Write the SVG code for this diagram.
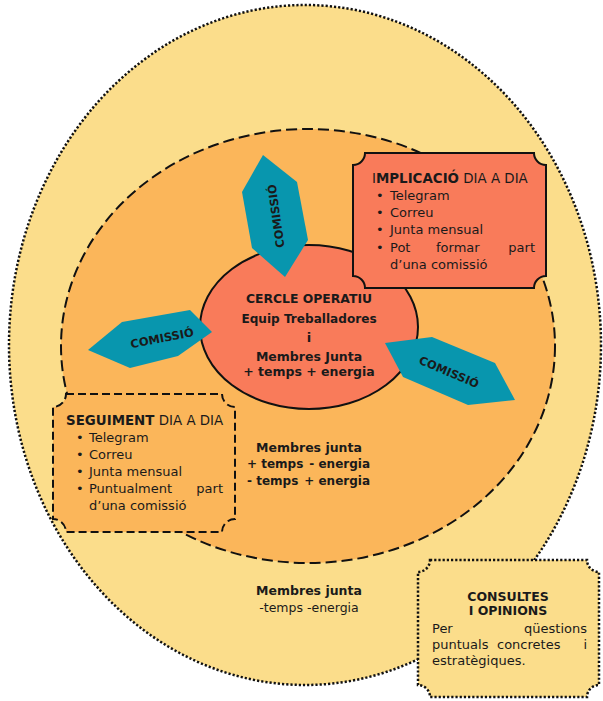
<svg xmlns="http://www.w3.org/2000/svg" width="603" height="701" viewBox="0 0 603 701">
<defs>
<style>
text{font-family:"DejaVu Sans","Liberation Sans",sans-serif;fill:#1a1a1a}
.b{font-weight:bold}
.t13{font-size:13px}
.com{font-size:11.5px;font-weight:bold;text-anchor:middle}
.c{text-anchor:middle}
.teal{fill:#0896ae}
</style>
</defs>
<rect width="603" height="701" fill="#ffffff"/>
<g id="outer-ring">
<ellipse cx="305" cy="345" rx="296" ry="340" fill="#fbdd8b" stroke="#111" stroke-width="2.5" stroke-dasharray="2.2 2"/>
</g>
<g id="middle-ring">
<ellipse cx="308" cy="346" rx="247" ry="217" fill="#fbb65a" stroke="#111" stroke-width="2" stroke-dasharray="11 5"/>
</g>
<g id="cercle-operatiu">
<ellipse cx="309" cy="327" rx="109" ry="82" fill="#f97b5a" stroke="#111" stroke-width="2"/>
</g>
<g id="comissio-top">
<polygon class="teal" points="263,155 297,182 308,240 285,277 252,248 242,192"/>
<text class="com" transform="translate(276,216) rotate(-98)" dy="0.36em">COMISSIÓ</text>
</g>
<g id="comissio-left">
<polygon class="teal" points="88,350 122,322 190,310 212,332 178,356 130,368"/>
<text class="com" transform="translate(162,338) rotate(-11)" dy="0.36em">COMISSIÓ</text>
</g>
<g id="comissio-right">
<polygon class="teal" points="385,343 432,337 495,363 515,400 468,405 403,377"/>
<text class="com" transform="translate(449,372) rotate(23)" dy="0.36em">COMISSIÓ</text>
</g>
<g id="cercle-text">
<text class="b c" x="309" y="303" font-size="12.4">CERCLE OPERATIU</text>
<text class="b c" x="309" y="323" font-size="12.1">Equip Treballadores</text>
<text class="b c" x="309" y="342" font-size="13">i</text>
<text class="b c" x="309" y="361" font-size="12.5">Membres Junta</text>
<text class="b c" x="309" y="376" font-size="12.5">+ temps + energia</text>
</g>
<g id="implicacio">
<path d="M365,153 H534 A12,12 0 0 0 546,165 V276 A12,12 0 0 0 534,288 H365 A12,12 0 0 0 353,276 V165 A12,12 0 0 0 365,153 Z" fill="#f97b5a" stroke="#111" stroke-width="2"/>
<text x="372" y="183" font-size="13.4">I<tspan class="b">MPLICACIÓ</tspan> DIA A DIA</text>
<text class="t13" x="376" y="200">•</text><text class="t13" x="390" y="200">Telegram</text>
<text class="t13" x="376" y="217">•</text><text class="t13" x="390" y="217">Correu</text>
<text class="t13" x="376" y="234">•</text><text class="t13" x="390" y="234">Junta mensual</text>
<text class="t13" x="376" y="252">•</text><text class="t13" x="390" y="252">Pot</text><text class="t13" x="436" y="252">formar</text><text class="t13" x="535" y="252" text-anchor="end">part</text>
<text class="t13" x="390" y="269">d’una comissió</text>
</g>
<g id="seguiment">
<path d="M66,394 H222 A13,13 0 0 0 235,407 V519 A13,13 0 0 0 222,532 H66 A13,13 0 0 0 53,519 V407 A13,13 0 0 0 66,394 Z" fill="#fbb65a" stroke="#111" stroke-width="2" stroke-dasharray="8 4"/>
<text x="66" y="425" font-size="13.4"><tspan class="b">SEGUIMENT</tspan> DIA A DIA</text>
<text class="t13" x="76" y="442">•</text><text class="t13" x="89" y="442">Telegram</text>
<text class="t13" x="76" y="459">•</text><text class="t13" x="89" y="459">Correu</text>
<text class="t13" x="76" y="476">•</text><text class="t13" x="89" y="476">Junta mensual</text>
<text class="t13" x="76" y="493">•</text><text class="t13" x="89" y="493">Puntualment</text><text class="t13" x="223" y="493" text-anchor="end">part</text>
<text class="t13" x="89" y="510">d’una comissió</text>
</g>
<g id="membres-mig">
<text class="b c" x="309" y="452" font-size="12.5">Membres junta</text>
<text class="b" x="247" y="468" font-size="12">+ temps</text><text class="b" x="370" y="468" font-size="12" text-anchor="end">- energia</text>
<text class="b" x="247" y="485" font-size="12">- temps</text><text class="b" x="370" y="485" font-size="12" text-anchor="end">+ energia</text>
</g>
<g id="membres-exterior">
<text class="b c" x="309" y="595" font-size="12.5">Membres junta</text>
<text class="c" x="309" y="612" font-size="12.5">-temps -energia</text>
</g>
<g id="consultes">
<path d="M430,560 H587 A12,12 0 0 0 599,572 V685 A12,12 0 0 0 587,697 H430 A12,12 0 0 0 418,685 V572 A12,12 0 0 0 430,560 Z" fill="#fbdd8b" stroke="#111" stroke-width="2.5" stroke-dasharray="2.2 2"/>
<text class="b c" x="508" y="601" font-size="12.5">CONSULTES</text>
<text class="b c" x="508" y="615" font-size="12.5">I OPINIONS</text>
<text class="t13" x="432" y="633">Per</text><text class="t13" x="587" y="633" text-anchor="end">qüestions</text>
<text class="t13" x="432" y="649">puntuals</text><text class="t13" x="497" y="649">concretes</text><text class="t13" x="587" y="649" text-anchor="end">i</text>
<text class="t13" x="432" y="665">estratègiques.</text>
</g>
</svg>
